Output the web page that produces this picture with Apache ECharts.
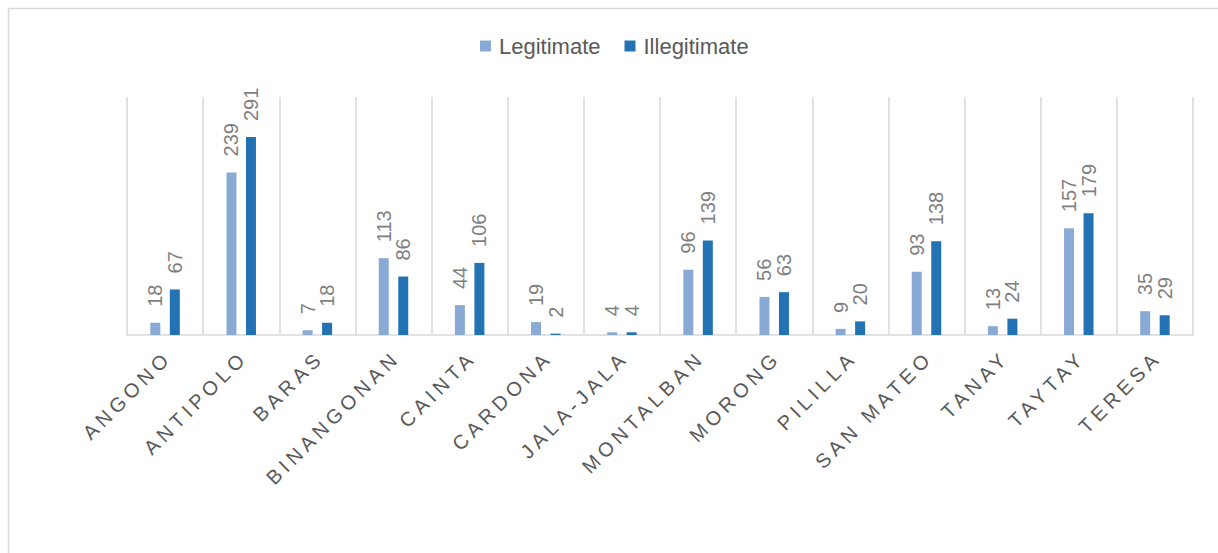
<!DOCTYPE html>
<html>
<head>
<meta charset="utf-8">
<script src="https://cdn.jsdelivr.net/npm/echarts@6/dist/echarts.min.js"></script>
<style>
  html, body { margin: 0; padding: 0; background: #fff; }
  #chart { width: 1218px; height: 553px; }
  #chart svg text[transform^="matrix(0.707"] { letter-spacing: 4.5px; }
</style>
</head>
<body>
<div id="chart"></div>
<script>
const categories = ['ANGONO', 'ANTIPOLO', 'BARAS', 'BINANGONAN', 'CAINTA', 'CARDONA', 'JALA-JALA', 'MONTALBAN', 'MORONG', 'PILILLA', 'SAN MATEO', 'TANAY', 'TAYTAY', 'TERESA'];
const legitimate = [18, 239, 7, 113, 44, 19, 4, 96, 56, 9, 93, 13, 157, 35];
const illegitimate = [67, 291, 18, 86, 106, 2, 4, 139, 63, 20, 138, 24, 179, 29];
const seriesNames = ['Legitimate', 'Illegitimate'];

const chart = echarts.init(document.getElementById('chart'), null, { renderer: 'svg' });
const font = 'Liberation Sans, Arial, sans-serif';
const labelCfg = {
  show: true,
  position: 'top',
  distance: 16,
  rotate: 90,
  align: 'left',
  verticalAlign: 'middle',
  color: '#7F7F7F',
  fontSize: 20,
  fontFamily: font
};
chart.setOption({
  animation: false,
  graphic: [{
    type: 'rect',
    shape: { x: 8.5, y: 8.5, width: 1400, height: 800 },
    style: { fill: 'none', stroke: '#D9D9D9', lineWidth: 1.5 },
    silent: true
  }],
  legend: {
    left: 475,
    top: 30,
    itemWidth: 11,
    itemHeight: 11,
    itemGap: 24,
    icon: 'rect',
    textStyle: { color: '#595959', fontSize: 22, fontFamily: font, padding: [0, 0, 0, 3] },
    data: seriesNames
  },
  grid: { left: 127, right: 25, top: 97, bottom: 218, containLabel: false },
  xAxis: {
    type: 'category',
    data: categories,
    axisTick: { show: false },
    axisLine: { lineStyle: { color: '#D9D9D9', width: 1.5 } },
    splitLine: { show: true, interval: 0, lineStyle: { color: '#D9D9D9', width: 1.5 } },
    axisLabel: {
      interval: 0,
      rotate: 45,
      margin: 22,
      color: '#595959',
      fontSize: 20,
      fontFamily: font,
      padding: [0, -4, 0, 0]
    }
  },
  yAxis: {
    type: 'value',
    min: 0,
    max: 350,
    show: false,
    splitLine: { show: false }
  },
  series: [
    {
      name: seriesNames[0],
      type: 'bar',
      data: legitimate,
      barWidth: 10,
      barGap: '95%',
      itemStyle: { color: '#8AAAD6' },
      label: labelCfg
    },
    {
      name: seriesNames[1],
      type: 'bar',
      data: illegitimate,
      barWidth: 10,
      itemStyle: { color: '#2272B4' },
      label: labelCfg
    }
  ]
});
</script>
</body>
</html>
